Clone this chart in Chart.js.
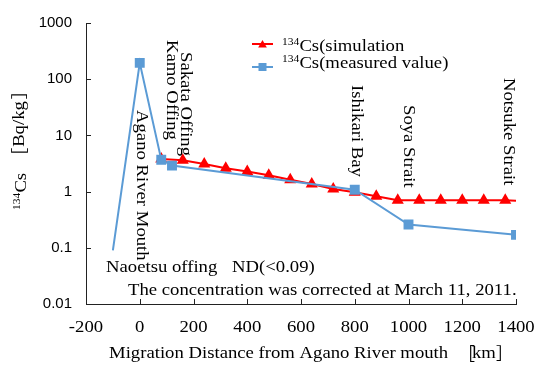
<!DOCTYPE html>
<html>
<head>
<meta charset="utf-8">
<script src="https://cdn.jsdelivr.net/npm/chart.js@4.4.0/dist/chart.umd.min.js"></script>
<style>
  html, body { margin: 0; padding: 0; background: #fff; }
  #wrap { width: 535px; height: 365px; }
</style>
</head>
<body>
<div id="wrap"><canvas id="chart"></canvas></div>
<script>
// distance from Agano River mouth (km) and 134Cs (Bq/kg)
const simDist = [80, 160, 240, 320, 400, 480, 560, 640, 720, 800, 880, 960, 1040, 1120, 1200, 1280, 1360, 1400];
const simCs   = [3.8, 3.6, 3.1, 2.6, 2.27, 1.96, 1.62, 1.36, 1.11, 0.97, 0.83, 0.7, 0.7, 0.7, 0.7, 0.7, 0.7, 0.69];
const measDist = [-100, 0, 80, 120, 800, 1000, 1400];
const measCs   = [0.09, 195, 3.7, 2.9, 1.08, 0.26, 0.17];
const yTicks = [0.01, 0.1, 1, 10, 100, 1000];
const xTicks = [-200, 0, 200, 400, 600, 800, 1000, 1200, 1400];

// place names along the route (x in km)
const places = [
  { name: 'Agano River Mouth', km: 7, top: 110 },
  { name: 'Kamo Offing', km: 117, top: 40 },
  { name: 'Sakata Offing', km: 169, top: 52 },
  { name: 'Ishikari Bay', km: 806, top: 85 },
  { name: 'Soya Strait', km: 999, top: 105 },
  { name: 'Notsuke Strait', km: 1373, top: 78 }
];

const SERIF = '"Liberation Serif", "Times New Roman", serif';
const CJK = '"Noto Sans CJK JP", sans-serif';
const SX = 1.1; // horizontal stretch to match the wide serif of the original

function drawText(ctx, str, x, y, size, align){
  ctx.font = size + 'px ' + SERIF;
  const w = ctx.measureText(str).width * SX;
  let x0 = x;
  if(align === 'center') x0 = x - w / 2;
  if(align === 'right') x0 = x - w;
  ctx.save();
  ctx.translate(x0, y);
  ctx.scale(SX, 1);
  ctx.textAlign = 'left';
  ctx.fillText(str, 0, 0);
  ctx.restore();
  return w;
}

// "134Cs..." with superscript mass number
function drawIsotope(ctx, rest, x, y, size){
  ctx.textBaseline = 'alphabetic';
  let w = drawText(ctx, '134', x, y - size * 0.33, size * 0.62, 'left');
  w += drawText(ctx, 'Cs' + rest, x + w, y, size, 'left');
  return w;
}

function bracket(ctx, ch, x, y){
  ctx.font = '17px ' + CJK;
  ctx.textAlign = 'left';
  ctx.fillText(ch, x, y);
}

function triangle(ctx, x, y, r){
  ctx.beginPath();
  for(let i = 0; i < 3; i++){
    const a = i * 2 * Math.PI / 3;
    ctx.lineTo(x + Math.sin(a) * r, y - Math.cos(a) * r);
  }
  ctx.closePath();
  ctx.fill();
}

const decor = {
  id: 'decor',
  afterDraw(chart){
    const ctx = chart.ctx;
    const xs = chart.scales.x, ys = chart.scales.y;
    const area = chart.chartArea;
    ctx.save();

    // inner tick marks
    ctx.strokeStyle = '#222';
    ctx.lineWidth = 1;
    ctx.beginPath();
    yTicks.forEach(v => {
      const y = Math.round(ys.getPixelForValue(v)) + 0.5;
      ctx.moveTo(area.left, y); ctx.lineTo(area.left + 5, y);
    });
    xTicks.forEach(v => {
      const x = Math.round(xs.getPixelForValue(v)) + 0.5;
      ctx.moveTo(x, area.bottom); ctx.lineTo(x, area.bottom - 5);
    });
    ctx.stroke();

    ctx.fillStyle = '#000';
    ctx.textBaseline = 'middle';

    // x tick labels
    xTicks.forEach(v => {
      drawText(ctx, String(v), xs.getPixelForValue(v), 328, 17, 'center');
    });

    // x axis title
    drawText(ctx, 'Migration Distance from Agano River mouth', 109, 354, 17, 'left');
    bracket(ctx, '［', 458, 354);
    drawText(ctx, 'km', 472, 354, 17, 'left');
    bracket(ctx, '］', 496, 354);

    // y axis title (rotated)
    ctx.save();
    ctx.translate(20, 210);
    ctx.rotate(-Math.PI / 2);
    let w = drawIsotope(ctx, '', 0, 6, 17);
    ctx.textBaseline = 'middle';
    bracket(ctx, '［', w + 8, 0);
    w += drawText(ctx, 'Bq/kg', w + 26, 0, 17, 'left');
    bracket(ctx, '］', w + 28, 0);
    ctx.restore();

    // vertical place names
    ctx.textBaseline = 'middle';
    places.forEach(p => {
      ctx.save();
      ctx.translate(xs.getPixelForValue(p.km), p.top);
      ctx.rotate(Math.PI / 2);
      drawText(ctx, p.name, 0, 0, 17, 'left');
      ctx.restore();
    });

    // notes
    drawText(ctx, 'Naoetsu offing', 106, 268, 17, 'left');
    drawText(ctx, 'ND(<0.09)', 232, 268, 17, 'left');
    drawText(ctx, 'The concentration was corrected at March 11, 2011.', 128, 291, 17, 'left');

    // legend
    const sim = chart.data.datasets[1], meas = chart.data.datasets[0];
    ctx.lineWidth = 2;
    ctx.strokeStyle = sim.borderColor;
    ctx.beginPath(); ctx.moveTo(252, 44); ctx.lineTo(273, 44); ctx.stroke();
    ctx.fillStyle = sim.borderColor;
    triangle(ctx, 262.5, 45, 5);
    ctx.strokeStyle = meas.borderColor;
    ctx.beginPath(); ctx.moveTo(252, 67); ctx.lineTo(273, 67); ctx.stroke();
    ctx.fillStyle = meas.borderColor;
    ctx.fillRect(258.5, 63, 8, 8);
    ctx.fillStyle = '#000';
    drawIsotope(ctx, '(simulation', 282, 51, 17);
    drawIsotope(ctx, '(measured value)', 282, 68, 17);

    ctx.restore();
  }
};

const simData = simDist.map((d, i) => ({ x: d, y: simCs[i] }));
const measData = measDist.map((d, i) => ({ x: d, y: measCs[i] }));

new Chart(document.getElementById('chart'), {
  type: 'line',
  data: {
    datasets: [
      {
        label: '134Cs(measured value)',
        data: measData,
        borderColor: '#5B9BD5',
        backgroundColor: '#5B9BD5',
        borderWidth: 2,
        pointStyle: 'rect',
        pointRadius: ctx => ctx.dataIndex === 0 ? 0 : 5.6,
        tension: 0,
        order: 0
      },
      {
        label: '134Cs(simulation',
        data: simData,
        borderColor: '#FF0000',
        backgroundColor: '#FF0000',
        borderWidth: 2,
        pointStyle: 'triangle',
        pointRadius: ctx => ctx.dataIndex === simDist.length - 1 ? 0 : 5,
        tension: 0,
        order: 1
      }
    ]
  },
  options: {
    responsive: true,
    maintainAspectRatio: false,
    animation: false,
    layout: { padding: { top: 20, right: 19, left: 0, bottom: 0 } },
    plugins: {
      legend: { display: false },
      tooltip: { enabled: false }
    },
    scales: {
      x: {
        type: 'linear',
        min: -200, max: 1400,
        grid: { display: false },
        border: { display: true, color: '#222', width: 1 },
        ticks: { display: false },
        afterFit: s => { s.height = 61; }
      },
      y: {
        type: 'logarithmic',
        min: 0.01, max: 1000,
        grid: { display: false, drawTicks: false },
        border: { display: true, color: '#222', width: 1 },
        afterBuildTicks: s => { s.ticks = yTicks.map(v => ({ value: v })); },
        ticks: {
          color: '#000',
          padding: 14,
          font: { family: '"Liberation Sans", Arial, sans-serif', size: 15 },
          callback: v => String(v)
        },
        afterFit: s => { s.width = 86; }
      }
    }
  },
  plugins: [decor]
});
</script>
</body>
</html>
